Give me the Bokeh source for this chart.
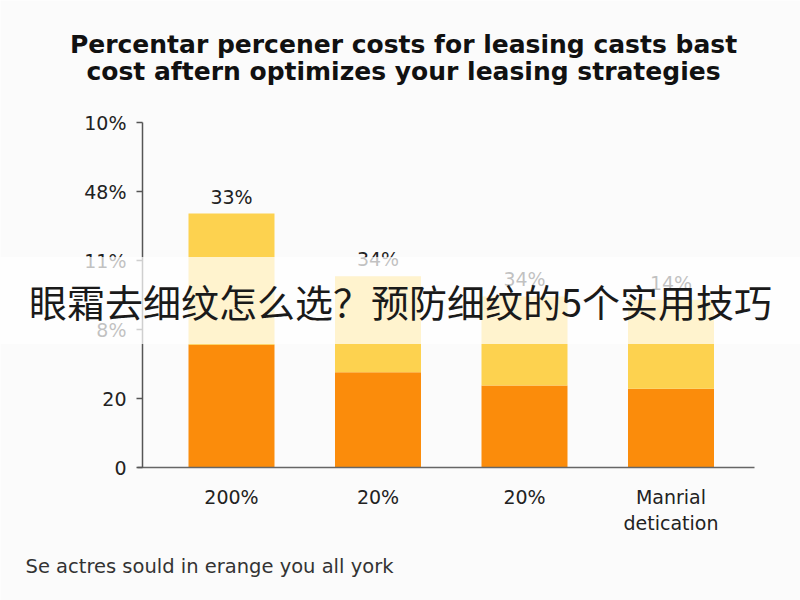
from bokeh.plotting import figure
from bokeh.models import Range1d, FixedTicker, Label, LabelSet, ColumnDataSource
from bokeh.embed import file_html
from bokeh.resources import INLINE
from bokeh.core.properties import value

# ---- data ----
title_line1 = "Percentar percener costs for leasing casts bast"
title_line2 = "cost aftern optimizes your leasing strategies"
categories = ["200%", "20%", "20%", "Manrial\ndetication"]
orange_vals = [1.78, 1.38, 1.19, 1.14]
yellow_vals = [1.90, 1.39, 1.29, 1.29]
bar_labels = ["33%", "34%", "34%", "14%"]
y_tick_labels = ["0", "20", "8%", "11%", "48%", "10%"]
overlay_text = "眼霜去细纹怎么选？预防细纹的5个实用技巧"
footer_text = "Se actres sould in erange you all york"

ORANGE = "#FB8C0B"
YELLOW = "#FDD24F"
BG = "#FBFBFB"
W, H = 800, 600

xs = list(range(len(categories)))
totals = [o + y for o, y in zip(orange_vals, yellow_vals)]
src = ColumnDataSource(dict(x=xs, low=orange_vals, high=yellow_vals,
                            total=totals, lab=bar_labels))

# the frame fills the whole canvas; axes are pinned with fixed_location
PX_X, X0 = 146.5, 231.0      # pixels per category, pixel of first category
PX_Y, Y0 = 69.0, 467.0       # pixels per y unit, pixel of y = 0
p = figure(width=W, height=H, output_backend="svg", toolbar_location=None,
           x_range=Range1d(-X0 / PX_X, (W - X0) / PX_X),
           y_range=Range1d(-(H - Y0) / PX_Y, Y0 / PX_Y),
           min_border=0)
p.background_fill_color = BG
p.border_fill_color = BG
p.outline_line_color = None
p.grid.visible = False
p.title.visible = False

p.vbar_stack(["low", "high"], x="x", width=0.587, source=src,
             color=[ORANGE, YELLOW], line_color=None)

p.add_layout(LabelSet(x="x", y="total", text="lab", source=src, y_offset=6,
                      text_align="center", text_baseline="bottom",
                      text_font=value("DejaVu Sans"), text_font_size="19px",
                      text_color="#222222"))

# y axis
ya = p.yaxis[0]
ya.fixed_location = (142 - X0) / PX_X
ya.bounds = (0, len(y_tick_labels) - 1)
ya.ticker = FixedTicker(ticks=list(range(len(y_tick_labels))))
ya.major_label_overrides = {i: t for i, t in enumerate(y_tick_labels)}
ya.axis_line_color = "#555555"
ya.axis_line_width = 1.5
ya.major_tick_line_color = "#555555"
ya.major_tick_line_width = 1.5
ya.major_tick_out = 6
ya.major_tick_in = 0
ya.minor_tick_line_color = None
ya.major_label_standoff = 10
ya.major_label_text_font = "DejaVu Sans"
ya.major_label_text_font_size = "19px"
ya.major_label_text_color = "#222222"

# x axis
xa = p.xaxis[0]
xa.fixed_location = 0
xa.bounds = ((137 - X0) / PX_X, (754 - X0) / PX_X)
xa.ticker = FixedTicker(ticks=xs)
xa.major_label_overrides = {i: c for i, c in enumerate(categories)}
xa.axis_line_color = "#666666"
xa.axis_line_width = 1.5
xa.major_tick_line_color = None
xa.minor_tick_line_color = None
xa.major_label_standoff = 12
xa.major_label_text_font = "DejaVu Sans"
xa.major_label_text_font_size = "19px"
xa.major_label_text_color = "#222222"

# title lines
for txt, yc in ((title_line1, 44), (title_line2, 71)):
    p.add_layout(Label(x=403, y=H - yc, x_units="screen", y_units="screen",
                       text=txt, text_align="center", text_baseline="middle",
                       text_font="DejaVu Sans", text_font_size="25px",
                       text_font_style="bold", text_color="#111111"))

# overlay banner
p.add_layout(Label(x=400, y=H - 300, x_units="screen", y_units="screen",
                   text=overlay_text, text_align="center", text_baseline="middle",
                   text_font="Noto Sans CJK SC", text_font_size="38px",
                   text_color="#1a1a1a", background_fill_color="white",
                   background_fill_alpha=0.72, padding=(50, 16)))

# footer
p.add_layout(Label(x=25, y=H - 566, x_units="screen", y_units="screen",
                   text=footer_text, text_align="left", text_baseline="alphabetic",
                   text_font="DejaVu Sans", text_font_size="19.5px",
                   text_color="#333333"))

open("out.html", "w").write(file_html(p, INLINE))
